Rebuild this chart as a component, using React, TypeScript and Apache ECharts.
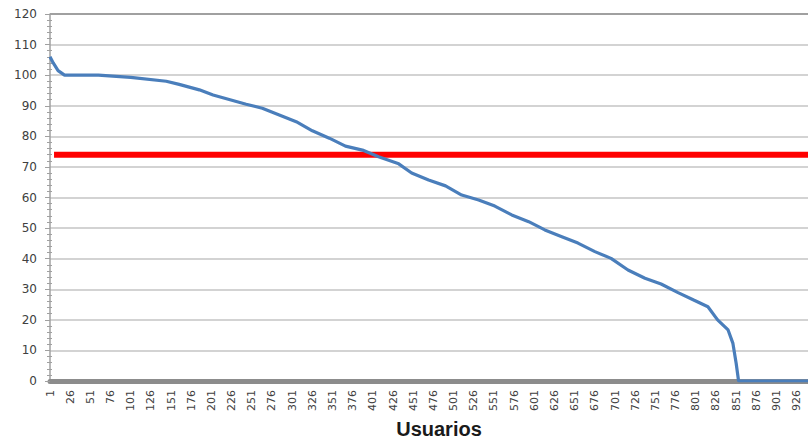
import React, { useEffect, useRef } from "react";
import * as echarts from "echarts";

const userCount = 940;
const users: string[] = Array.from({ length: userCount }, (_, k) => String(k + 1));

// [user index (0-based), value]
const curvePoints: [number, number][] = [
  [0, 106], [4, 104], [10, 101.5], [18, 100], [60, 100], [100, 99.3], [144, 98],
  [160, 97], [185, 95.2], [202, 93.5], [243, 90.5], [263, 89.2], [284, 87],
  [305, 84.8], [325, 81.8], [346, 79.4], [366, 76.8], [387, 75.5], [407, 73.3],
  [432, 71], [448, 68], [469, 65.7], [490, 63.8], [510, 60.8], [531, 59.2],
  [551, 57.2], [572, 54.3], [593, 52.1], [613, 49.4], [634, 47.2], [654, 45.1],
  [675, 42.3], [695, 40.1], [716, 36.3], [737, 33.6], [757, 31.7], [778, 28.9],
  [798, 26.4], [815, 24.3], [827, 20], [840, 16.7], [846, 12.3], [850, 5.8],
  [853, 0], [939, 0],
];

const thresholdValue = 74;
const thresholdPoints: [number, number][] = [
  [5, thresholdValue],
  [939, thresholdValue],
];

const yTickCount = 13;
const splitColors: string[] = Array.from({ length: yTickCount }, (_, k) =>
  k === yTickCount - 1 ? "#808080" : "#c4c4c4"
);

const GRID_LEFT = 50;
const GRID_RIGHT = -3;
const CHART_W = 808;
const PLOT_W = CHART_W - GRID_LEFT - GRID_RIGHT;

export default function App() {
  const ref = useRef<HTMLDivElement>(null);
  useEffect(() => {
    if (!ref.current) return;
    const chart = echarts.init(ref.current, null, { renderer: "svg" });
    chart.setOption({
      animation: false,
      backgroundColor: "#ffffff",
      grid: { left: GRID_LEFT, right: GRID_RIGHT, top: 14, bottom: 60, containLabel: false },
      xAxis: {
        type: "category",
        data: users,
        boundaryGap: false,
        offset: 3,
        axisLine: { show: true, lineStyle: { color: "#8c8c8c", width: 5 } },
        axisTick: { show: false },
        axisLabel: {
          interval: 24,
          rotate: 90,
          margin: 6,
          fontFamily: "DejaVu Sans",
          fontSize: 11,
          color: "#404040",
        },
        splitLine: { show: false },
      },
      yAxis: [
        {
          type: "value",
          min: 0,
          max: 120,
          interval: 10,
          position: "left",
          axisLine: { show: true, lineStyle: { color: "#a0a0a0", width: 1.5 } },
          axisTick: { show: true, length: 5, lineStyle: { color: "#a0a0a0" } },
          axisLabel: {
            margin: 13,
            fontFamily: "DejaVu Sans",
            fontSize: 12,
            color: "#404040",
          },
          splitLine: { show: true, lineStyle: { color: splitColors, width: 1.5 } },
        },
        {
          type: "value",
          min: 0,
          max: 120,
          interval: 10,
          position: "right",
          offset: -PLOT_W,
          axisLine: { show: false },
          axisTick: { show: false },
          axisLabel: { show: false },
          splitLine: { show: false },
          minorTick: { show: true, splitNumber: 5, length: 5, lineStyle: { color: "#a0a0a0" } },
        },
      ],
      series: [
        {
          type: "line",
          data: thresholdPoints,
          showSymbol: false,
          lineStyle: { color: "#ff0000", width: 6 },
          z: 3,
        },
        {
          type: "line",
          data: curvePoints,
          showSymbol: false,
          lineStyle: { color: "#4a7ebb", width: 3.2 },
          z: 4,
        },
      ],
      graphic: [
        {
          type: "text",
          x: 439,
          y: 429,
          style: {
            text: "Usuarios",
            fontFamily: "Liberation Sans",
            fontWeight: "bold",
            fontSize: 20,
            fill: "#1a1a1a",
            textAlign: "center",
            textVerticalAlign: "middle",
          },
        },
      ],
    });
    return () => chart.dispose();
  }, []);
  return <div ref={ref} style={{ width: 808, height: 441, position: "absolute", left: 0, top: 0 }} />;
}
